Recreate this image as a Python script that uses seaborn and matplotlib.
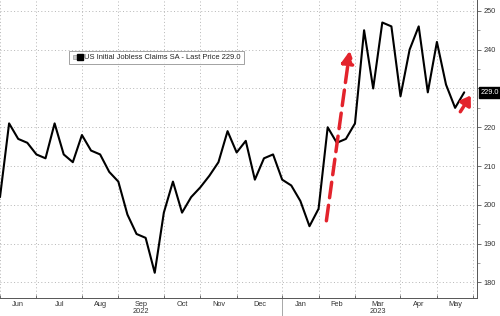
import pandas as pd
import numpy as np
import matplotlib
matplotlib.use("Agg")
import matplotlib.pyplot as plt
import matplotlib.dates as mdates
import matplotlib.transforms as mtransforms
from matplotlib.lines import Line2D
from matplotlib.legend_handler import HandlerTuple
import seaborn as sns

# ---- data -------------------------------------------------------------
start_date = "2022-06-03"
claims = [202, 221, 217, 216, 213, 212, 221, 213, 211, 218,
          214, 213, 208.5, 206, 197.5, 192.5, 191.5, 182.5, 198, 206,
          198, 202, 204.5, 207.5, 211, 219, 213.5, 216.5, 206.5, 212,
          213, 206.5, 205, 201, 194.5, 199, 220, 216, 217, 221,
          245, 230, 247, 246, 228, 240, 246, 229, 242, 231,
          225, 229]
month_starts = ["2022-06-03", "2022-07-01", "2022-08-05", "2022-09-02", "2022-10-07",
                "2022-11-04", "2022-12-02", "2023-01-06", "2023-02-03", "2023-03-03",
                "2023-04-07", "2023-05-05", "2023-06-02"]
month_labels = ["Jun", "Jul", "Aug", "Sep\n2022", "Oct", "Nov", "Dec",
                "Jan", "Feb", "Mar\n2023", "Apr", "May"]
y_ticks = [180, 190, 200, 210, 220, 230, 240, 250]
series_name = "US Initial Jobless Claims SA - Last Price"

dates = pd.date_range(start_date, periods=len(claims), freq="W-FRI")
df = pd.DataFrame({"date": dates, "claims": claims})

# ---- style ------------------------------------------------------------
sns.set_theme(style="white")
plt.rcParams["font.family"] = ["Liberation Sans", "DejaVu Sans"]

fig = plt.figure(figsize=(5.0, 3.16), dpi=100)
ax = fig.add_axes([0.0, 18 / 316, 477 / 500, 298 / 316])

sns.lineplot(data=df, x="date", y="claims", ax=ax, color="black", lw=1.5)

red = "#e3232c"
# dashed arrow (surge Feb)
ax.annotate("", xy=(pd.Timestamp("2023-02-27"), 239.7),
            xytext=(pd.Timestamp("2023-02-09"), 195.9),
            arrowprops=dict(arrowstyle="-|>,head_length=0.6,head_width=0.32",
                            color=red, lw=2.5, linestyle=(0, (4.5, 2.2)),
                            shrinkA=0, shrinkB=0))
# small solid arrow at the end
ax.annotate("", xy=(pd.Timestamp("2023-05-31"), 228.2),
            xytext=(pd.Timestamp("2023-05-23"), 224.0),
            arrowprops=dict(arrowstyle="-|>,head_length=0.45,head_width=0.3",
                            color=red, lw=2.5, shrinkA=0, shrinkB=0))

# ---- axes -------------------------------------------------------------
ax.set_xlim(pd.Timestamp("2022-06-03"), pd.Timestamp("2023-06-04 20:00"))
ax.set_ylim(176.0, 252.8)

ms = pd.to_datetime(month_starts)
mids = [ms[i] + (ms[i + 1] - ms[i]) / 2 for i in range(len(ms) - 1)]
ax.set_xticks(ms)
ax.set_xticklabels([""] * len(ms))
ax.set_xticks(mids, minor=True)
ax.set_xticklabels(month_labels, minor=True)
ax.tick_params(axis="x", which="major", direction="in", length=2, width=0.6,
               colors="#555555", bottom=True)
ax.tick_params(axis="x", which="minor", length=0, pad=2.5, labelsize=5.3,
               labelcolor="#333333")
for lbl in ax.get_xticklabels(minor=True):
    lbl.set_linespacing(1.0)

last = claims[-1]
ax.yaxis.tick_right()
ax.set_yticks(y_ticks)
# the tick label hidden behind the last-price tag is left blank
ax.set_yticklabels(["" if abs(v - last) < 4 else str(v) for v in y_ticks])
ax.set_yticks([v + 5 for v in y_ticks[:-1]], minor=True)
ax.tick_params(axis="y", which="major", right=True, left=False, direction="out",
               length=3, width=0.6, pad=1.5, labelsize=5.3, colors="#555555",
               labelcolor="#333333")
ax.tick_params(axis="y", which="minor", right=True, left=False, direction="out",
               length=2, width=0.5, colors="#777777")

ax.set_xlabel("")
ax.set_ylabel("")

ax.grid(True, which="major", color="#b5b5b5", lw=0.7, linestyle=(0, (1, 2.5)))

for side in ["top", "left"]:
    ax.spines[side].set_visible(False)
for side in ["right", "bottom"]:
    ax.spines[side].set_visible(True)
    ax.spines[side].set_color("#555555")
    ax.spines[side].set_linewidth(0.7)

# year separator below the axis
trans = mtransforms.blended_transform_factory(ax.transData, ax.transAxes)
ax.add_line(Line2D([mdates.date2num(pd.Timestamp("2023-01-06"))] * 2, [-0.07, 0.0],
                   transform=trans, color="#999999", lw=0.6, clip_on=False))

# last price tag
trans_y = mtransforms.blended_transform_factory(ax.transAxes, ax.transData)
ax.text(1.008, last, f"{last:.1f}", transform=trans_y, ha="left",
        va="center", fontsize=5.3, color="white",
        bbox=dict(boxstyle="square,pad=0.25", fc="black", ec="black"))

# legend
h_small = Line2D([], [], marker="s", ls="", markersize=2.5,
                 markerfacecolor="#cccccc", markeredgecolor="#888888", markeredgewidth=0.4)
h_big = Line2D([], [], marker="s", ls="", markersize=5,
               markerfacecolor="black", markeredgecolor="black")
leg = ax.legend([(h_small, h_big)], [f"{series_name} {last:.1f}"],
                handler_map={tuple: HandlerTuple(ndivide=None, pad=0.1)},
                loc="upper left", bbox_to_anchor=(0.145, 0.829),
                borderaxespad=0, fontsize=5.4, frameon=True, fancybox=False,
                edgecolor="#777777", handlelength=1.4, handletextpad=0.2,
                borderpad=0.4)
leg.get_frame().set_linewidth(0.6)
for t in leg.get_texts():
    t.set_color("#222222")

fig.savefig("out.png", dpi=100, facecolor="white")
